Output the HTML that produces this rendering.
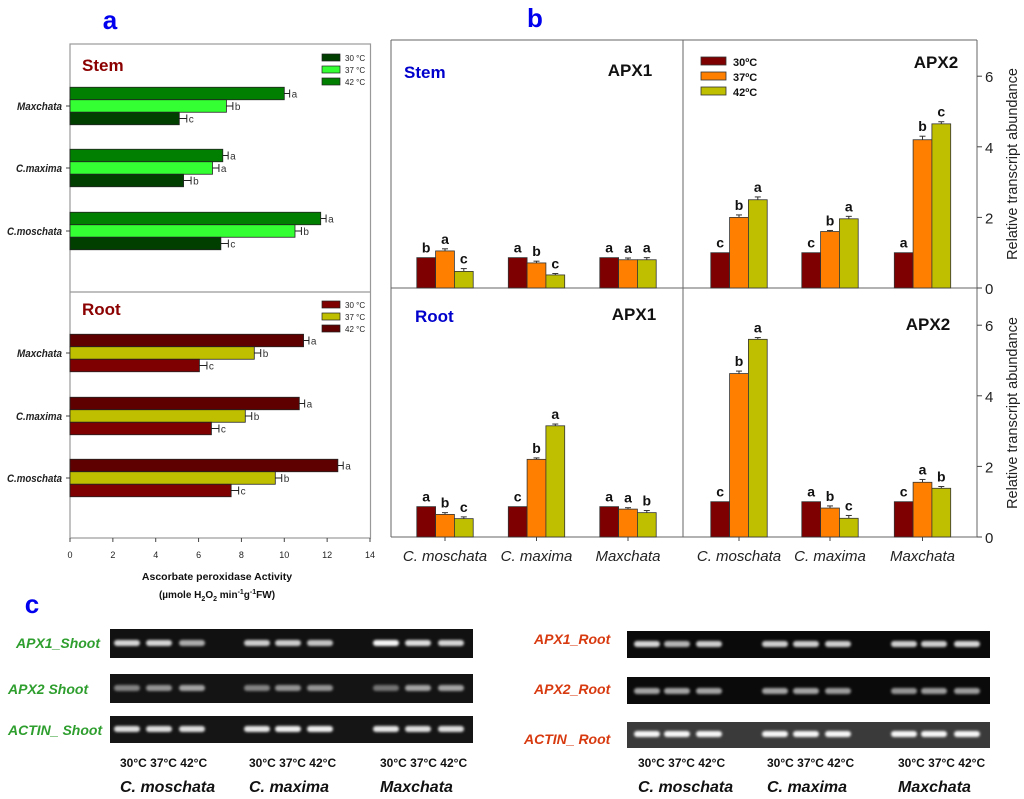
<!DOCTYPE html>
<html><head><meta charset="utf-8">
<style>
body{margin:0;background:#fff;}
svg{display:block;font-family:"Liberation Sans",Arial,sans-serif;}
</style></head>
<body>
<svg id="fig" width="1024" height="799" viewBox="0 0 1024 799" xmlns="http://www.w3.org/2000/svg">
<defs>
<filter id="blur" x="-20%" y="-100%" width="140%" height="300%"><feGaussianBlur stdDeviation="1.3"/></filter>
</defs>
<text x="110" y="29" font-size="26" font-weight="bold" fill="#0000ee" text-anchor="middle">a</text>
<text x="535" y="27" font-size="26" font-weight="bold" fill="#0000ee" text-anchor="middle">b</text>
<text x="32" y="613" font-size="26" font-weight="bold" fill="#0000ee" text-anchor="middle">c</text>
<g id="pa"></g>
<g id="pb"></g>
<g id="pc"></g>
</svg>
<script>
// ---------- Panel a data ----------
const aCategories = ["Maxchata", "C.maxima", "C.moschata"];
const aTemps = ["30 \u00b0C", "37 \u00b0C", "42 \u00b0C"];
const aStem42 = [10.0, 7.13, 11.7];
const aStem37 = [7.3, 6.65, 10.5];
const aStem30 = [5.1, 5.3, 7.04];
const aStemLetters42 = ["a", "a", "a"];
const aStemLetters37 = ["b", "a", "b"];
const aStemLetters30 = ["c", "b", "c"];
const aRoot42 = [10.9, 10.7, 12.5];
const aRoot37 = [8.6, 8.18, 9.58];
const aRoot30 = [6.04, 6.6, 7.52];
const aRootLetters42 = ["a", "a", "a"];
const aRootLetters37 = ["b", "b", "b"];
const aRootLetters30 = ["c", "c", "c"];
const aErr = [0.25, 0.3, 0.35];
const aXTicks = [0, 2, 4, 6, 8, 10, 12, 14];

// ---------- Panel b data ----------
const bGroups = ["C. moschata", "C. maxima", "Maxchata"];
const bTemps = ["30\u00baC", "37\u00baC", "42\u00baC"];
const bYTicks = [0, 2, 4, 6];
const stemApx1 = [[0.86, 1.05, 0.47], [0.86, 0.71, 0.37], [0.86, 0.80, 0.80]];
const stemApx1Err = [[0, 0.06, 0.08], [0, 0.05, 0.04], [0, 0.05, 0.06]];
const stemApx1Let = [["b","a","c"],["a","b","c"],["a","a","a"]];
const stemApx2 = [[1.0, 2.0, 2.5], [1.0, 1.6, 1.96], [1.0, 4.2, 4.65]];
const stemApx2Err = [[0, 0.07, 0.08], [0, 0.03, 0.07], [0, 0.1, 0.06]];
const stemApx2Let = [["c","b","a"],["c","b","a"],["a","b","c"]];
const rootApx1 = [[0.86, 0.64, 0.52], [0.86, 2.2, 3.15], [0.86, 0.79, 0.69]];
const rootApx1Err = [[0, 0.05, 0.05], [0, 0.04, 0.05], [0, 0.04, 0.06]];
const rootApx1Let = [["a","b","c"],["c","b","a"],["a","a","b"]];
const rootApx2 = [[1.0, 4.63, 5.6], [1.0, 0.82, 0.53], [1.0, 1.55, 1.38]];
const rootApx2Err = [[0, 0.07, 0.05], [0, 0.06, 0.08], [0, 0.08, 0.05]];
const rootApx2Let = [["c","b","a"],["a","b","c"],["c","a","b"]];

// ---------- Panel c data (band intensities) ----------
const gelTemps = ["30\u00b0C", "37\u00b0C", "42\u00b0C"];
const gelSpecies = ["C.  moschata", "C.  maxima", "Maxchata"];
const shootApx1 = [0.75, 0.75, 0.5, 0.7, 0.7, 0.65, 0.95, 0.8, 0.75];
const shootApx2 = [0.25, 0.35, 0.45, 0.25, 0.35, 0.35, 0.15, 0.45, 0.45];
const shootActin = [0.8, 0.8, 0.8, 0.85, 0.9, 0.9, 0.85, 0.8, 0.8];
const rootApx1G = [0.75, 0.55, 0.7, 0.7, 0.7, 0.7, 0.7, 0.7, 0.75];
const rootApx2G = [0.45, 0.45, 0.45, 0.45, 0.45, 0.4, 0.35, 0.4, 0.4];
const rootActin = [0.95, 0.95, 0.95, 0.95, 0.95, 0.95, 0.95, 0.95, 0.95];

const NS = "http://www.w3.org/2000/svg";
function mk(parent, tag, attrs, txt){const e=document.createElementNS(NS,tag);for(const k in attrs)e.setAttribute(k,attrs[k]);if(txt!==undefined)e.textContent=txt;parent.appendChild(e);return e;}

// ===== Panel a =====
const pa = document.getElementById('pa');
const ax = v => 70 + v * (300/14);
const catLabelW = [45, 46, 55];
mk(pa,'rect',{x:70,y:44,width:300.5,height:494,fill:'none',stroke:'#999','stroke-width':1.2});
mk(pa,'line',{x1:70,y1:292,x2:370.5,y2:292,stroke:'#999','stroke-width':1.2});
function aPanel(title, catY, vals, lets, cols, legY, legCols){
  const t = mk(pa,'text',{x:82,y:title==="Stem"?71:315,'font-size':17,'font-weight':'bold',fill:'#8b0000'},title);
  
  
  for(let i=0;i<3;i++){
    const cy = catY[i];
    const lb = mk(pa,'text',{x:62-catLabelW[i],y:cy+4,'font-size':11,'font-style':'italic','font-weight':'bold',textLength:catLabelW[i],lengthAdjust:'spacingAndGlyphs',fill:'#222'},aCategories[i]);
    
    
    mk(pa,'line',{x1:66,y1:cy,x2:70,y2:cy,stroke:'#444'});
    const offs=[-18.75,-6.25,6.25];
    for(let s=0;s<3;s++){
      const v = vals[s][i];
      const r = mk(pa,'rect',{x:70,y:cy+offs[s],width:ax(v)-70,height:12.5,fill:cols[s],stroke:'#222','stroke-width':0.8});
      
      
      const ym = cy+offs[s]+6.25, xe = ax(v+aErr[s]);
      mk(pa,'line',{x1:ax(v),y1:ym,x2:xe,y2:ym,stroke:'#222'});
      mk(pa,'line',{x1:xe,y1:ym-4,x2:xe,y2:ym+4,stroke:'#222'});
      mk(pa,'text',{x:xe+2,y:ym+4,'font-size':10,fill:'#333'},lets[s][i]);
    }
  }
  for(let k=0;k<3;k++){
    mk(pa,'rect',{x:322,y:legY+k*12,width:18,height:7,fill:legCols[k],stroke:'#222','stroke-width':0.7});
    const lt = mk(pa,'text',{x:345,y:legY+k*12+7,'font-size':8,fill:'#222'},aTemps[k]);
    
    
  }
}
aPanel("Stem",[106,168,231],[aStem42,aStem37,aStem30],[aStemLetters42,aStemLetters37,aStemLetters30],['#007f00','#33ff33','#003f00'],54,['#003f00','#33ff33','#007f00']);
aPanel("Root",[353,416,478],[aRoot42,aRoot37,aRoot30],[aRootLetters42,aRootLetters37,aRootLetters30],['#5f0000','#bfbf00','#7f0000'],301,['#7f0000','#bfbf00','#5f0000']);
aXTicks.forEach(t=>{
  mk(pa,'line',{x1:ax(t),y1:538,x2:ax(t),y2:542,stroke:'#444'});
  const tl = mk(pa,'text',{x:ax(t),y:558,'font-size':9,'text-anchor':'middle',fill:'#222'},t);
  
  
});
const xt = mk(pa,'text',{x:217,y:580,'font-size':10.5,'font-weight':'bold','text-anchor':'middle',fill:'#111'},'Ascorbate peroxidase Activity');


const xu = mk(pa,'text',{x:217,y:598,'font-size':10,'font-weight':'bold','text-anchor':'middle',fill:'#111'});
xu.innerHTML='(\u00b5mole H<tspan font-size="7" dy="3">2</tspan><tspan dy="-3">O</tspan><tspan font-size="7" dy="3">2</tspan><tspan dy="-3"> min</tspan><tspan font-size="7" dy="-4">-1</tspan><tspan dy="4">g</tspan><tspan font-size="7" dy="-4">-1</tspan><tspan dy="4">FW)</tspan>';



// ===== Panel b =====
const pb = document.getElementById('pb');
const L=391, MID=683, R=977, TOP=40, B1=288, B2=537, PPU=35.3;
const gx = [445, 536.5, 628, 739, 830, 922.5];
const bw = 18.8;
const bCols = ['#7f0000','#ff8000','#bfbf00'];
mk(pb,'line',{x1:L,y1:TOP,x2:R,y2:TOP,stroke:'#666'});
mk(pb,'line',{x1:L,y1:TOP,x2:L,y2:B2,stroke:'#666'});
mk(pb,'line',{x1:MID,y1:TOP,x2:MID,y2:B2,stroke:'#666'});
mk(pb,'line',{x1:R,y1:TOP,x2:R,y2:B2,stroke:'#666'});
mk(pb,'line',{x1:L,y1:B1,x2:R,y2:B1,stroke:'#666'});
mk(pb,'line',{x1:L,y1:B2,x2:R,y2:B2,stroke:'#666'});
function bSub(base, gi0, vals, errs, lets, nm){
  const y = v => base - v*PPU;
  for(let g=0;g<3;g++){
    const cx = gx[gi0+g];
    for(let s=0;s<3;s++){
      const v = vals[g][s], x0 = cx + (s-1.5)*bw;
      const r = mk(pb,'rect',{x:x0,y:y(v),width:bw,height:v*PPU,fill:bCols[s],stroke:'#333','stroke-width':0.8});
      
      
      const e = errs[g][s];
      if(e>0){
        mk(pb,'line',{x1:x0+bw/2,y1:y(v),x2:x0+bw/2,y2:y(v+e),stroke:'#333'});
        mk(pb,'line',{x1:x0+bw/2-3,y1:y(v+e),x2:x0+bw/2+3,y2:y(v+e),stroke:'#333'});
      }
      mk(pb,'text',{x:x0+bw/2,y:y(v+e)-5,'font-size':14,'font-weight':'bold','text-anchor':'middle',fill:'#111'},lets[g][s]);
    }
  }
}
bSub(B1,0,stemApx1,stemApx1Err,stemApx1Let,'stem-apx1');
bSub(B1,3,stemApx2,stemApx2Err,stemApx2Let,'stem-apx2');
bSub(B2,0,rootApx1,rootApx1Err,rootApx1Let,'root-apx1');
bSub(B2,3,rootApx2,rootApx2Err,rootApx2Let,'root-apx2');
[B1,B2].forEach((base,bi)=>{
  bYTicks.forEach(t=>{
    const yy = base - t*PPU;
    mk(pb,'line',{x1:R,y1:yy,x2:R+5,y2:yy,stroke:'#444'});
    const tl = mk(pb,'text',{x:R+8,y:yy+6,'font-size':15,fill:'#222'},t);
    
    
  });
  const cy = bi===0?164:413;
  const yt = mk(pb,'text',{x:0,y:0,'font-size':14.5,fill:'#222','text-anchor':'middle',transform:'translate(1017,'+cy+') rotate(-90)'},'Relative transcript abundance');
  
  
});
gx.forEach((cx,i)=>{
  mk(pb,'line',{x1:cx,y1:B2,x2:cx,y2:B2+4,stroke:'#444'});
  const gl = mk(pb,'text',{x:cx,y:561,'font-size':15,'font-style':'italic','text-anchor':'middle',fill:'#222'},bGroups[i%3]);
  
  
});
mk(pb,'text',{x:404,y:78,'font-size':17,'font-weight':'bold',fill:'#0000cc'},'Stem');
mk(pb,'text',{x:630,y:76,'font-size':17,'font-weight':'bold','text-anchor':'middle',fill:'#111'},'APX1');
mk(pb,'text',{x:936,y:68,'font-size':17,'font-weight':'bold','text-anchor':'middle',fill:'#111'},'APX2');
mk(pb,'text',{x:415,y:322,'font-size':17,'font-weight':'bold',fill:'#0000cc'},'Root');
mk(pb,'text',{x:634,y:320,'font-size':17,'font-weight':'bold','text-anchor':'middle',fill:'#111'},'APX1');
mk(pb,'text',{x:928,y:330,'font-size':17,'font-weight':'bold','text-anchor':'middle',fill:'#111'},'APX2');
for(let k=0;k<3;k++){
  mk(pb,'rect',{x:701,y:57+k*15,width:25,height:8,fill:bCols[k],stroke:'#333','stroke-width':0.8});
  const lt = mk(pb,'text',{x:733,y:66+k*15,'font-size':11,'font-weight':'bold',fill:'#111'},bTemps[k]);
  
  
}

// ===== Panel c =====
const pc = document.getElementById('pc');
function gel(x0,x1,y0,y1,bandY,lanes,ints,bg,nm){
  const r = mk(pc,'rect',{x:x0,y:y0,width:x1-x0,height:y1-y0,fill:bg});
  
  
  lanes.forEach((lx,i)=>{
    const c = Math.round(90+ints[i]*165);
    mk(pc,'rect',{x:lx-13,y:bandY-3,width:26,height:6,rx:3,fill:'rgb('+c+','+c+','+c+')',filter:'url(#blur)'});
  });
}
const leftLanes=[127,159,192,257,288,320,386,418,451];
const rightLanes=[647,677,709,775,806,838,904,934,967];
gel(110,473,629,658,643,leftLanes,shootApx1,'#111','gel-apx1-shoot');
gel(110,473,674,703,688,leftLanes,shootApx2,'#141414','gel-apx2-shoot');
gel(110,473,716,743,729,leftLanes,shootActin,'#151515','gel-actin-shoot');
gel(627,990,631,658,644,rightLanes,rootApx1G,'#0a0a0a','gel-apx1-root');
gel(627,990,677,704,691,rightLanes,rootApx2G,'#0a0a0a','gel-apx2-root');
gel(627,990,722,748,734,rightLanes,rootActin,'#3a3a3a','gel-actin-root');
const gLab=[["APX1_Shoot",16,648,'#2e9e2e'],["APX2 Shoot",8,694,'#2e9e2e'],["ACTIN_ Shoot",8,735,'#2e9e2e'],
            ["APX1_Root",534,644,'#d83a10'],["APX2_Root",534,694,'#d83a10'],["ACTIN_ Root",524,744,'#d83a10']];
gLab.forEach(g=>{
  const t = mk(pc,'text',{x:g[1],y:g[2],'font-size':14,'font-weight':'bold','font-style':'italic',fill:g[3]},g[0]);
  
  
});
[[120,249,380],[638,767,898]].forEach(xs=>{
  xs.forEach((x,i)=>{
    const t = mk(pc,'text',{x:x,y:767,'font-size':12,'font-weight':'bold',fill:'#111'},gelTemps.join(' '));
    
    
    const s = mk(pc,'text',{x:x,y:792,'font-size':16,'font-weight':'bold','font-style':'italic',fill:'#111'},gelSpecies[i]);
    
    
  });
});
</script>
</body></html>
